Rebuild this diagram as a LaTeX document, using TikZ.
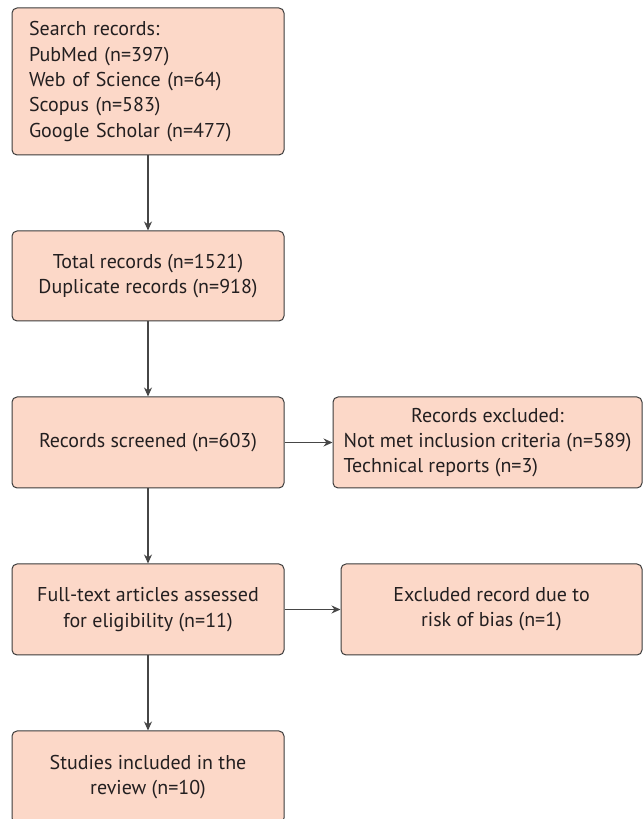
\documentclass[tikz,border=0pt]{standalone}
\usepackage{fontspec}
\setmainfont{PT Sans}
\usetikzlibrary{arrows.meta}
\definecolor{boxfill}{RGB}{252,216,200}
\definecolor{boxdraw}{RGB}{60,60,60}
\definecolor{txt}{RGB}{35,31,32}
\definecolor{lin}{RGB}{70,70,70}
\begin{document}
\begin{tikzpicture}[x=1pt,y=1pt,
  fbox/.style={draw=boxdraw, fill=boxfill, line width=1pt, rounded corners=5pt,
    text=txt, font=\fontsize{20}{25.3}\selectfont, align=center, inner sep=0pt},
  arr/.style={draw=lin, line width=1.2pt, -{Stealth[length=9pt,width=8pt]}}]
\useasboundingbox (0,0) rectangle (643,819);
\node[fbox, minimum width=272pt, minimum height=147pt, text width=238pt, align=left] (search) at (148,737.5)
  {Search records:\\PubMed (n=397)\\Web of Science (n=64)\\Scopus (n=583)\\Google Scholar (n=477)};
\node[fbox, minimum width=272pt, minimum height=90pt] (total) at (148,543)
  {Total records (n=1521)\\Duplicate records (n=918)};
\node[fbox, minimum width=272pt, minimum height=91pt] (screen) at (148,376.5)
  {Records screened (n=603)};
\node[fbox, minimum width=309pt, minimum height=91pt] (excl) at (487.5,376.5)
  {\begin{tabular}{@{}l@{}}\multicolumn{1}{@{}c@{}}{Records excluded:}\\Not met inclusion criteria (n=589)\\Technical reports (n=3)\end{tabular}};
\node[fbox, minimum width=272pt, minimum height=91pt] (full) at (148,209.5)
  {Full-text articles assessed\\for eligibility (n=11)};
\node[fbox, minimum width=301pt, minimum height=91pt] (bias) at (491.5,209.5)
  {Excluded record due to\\risk of bias (n=1)};
\node[fbox, minimum width=272pt, minimum height=92pt] (incl) at (148,42)
  {Studies included in the\\review (n=10)};
\draw[arr] (search) -- (total);
\draw[arr] (total) -- (screen);
\draw[arr] (screen) -- (excl);
\draw[arr] (screen) -- (full);
\draw[arr] (full) -- (bias);
\draw[arr] (full) -- (incl);
\end{tikzpicture}
\end{document}
